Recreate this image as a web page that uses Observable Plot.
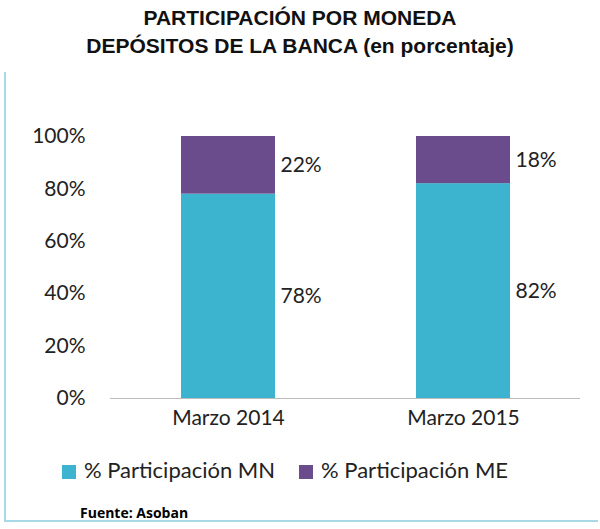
<!DOCTYPE html>
<html><head><meta charset="utf-8">
<script src="https://cdn.jsdelivr.net/npm/d3@7"></script>
<script src="https://cdn.jsdelivr.net/npm/@observablehq/plot@0.6"></script>
<style>
body{margin:0;width:600px;height:529px;background:#fff;position:relative;overflow:hidden;font-family:Lato,sans-serif}
#title{position:absolute;top:4px;left:0;width:600px;text-align:center;font-family:"Liberation Sans",Arial,sans-serif;font-weight:bold;font-size:21px;line-height:28px;color:#111}
#chart{position:absolute;top:70px;left:0}
#legend{position:absolute;top:456px;left:62px;font-size:22px;color:#222;display:flex;gap:24px}
#legend span.sw{display:inline-block;width:14px;height:14px;margin-right:8px;vertical-align:middle}
#src{position:absolute;top:503px;left:80px;font-family:"Open Sans",sans-serif;font-weight:bold;font-size:14px}
#frame{position:absolute;left:4px;top:72px;width:592px;height:448px;border-left:2px solid #a9d8e6;border-bottom:2px solid #a9d8e6}
</style></head><body>
<div id="frame"></div>
<div id="title">PARTICIPACIÓN POR MONEDA<br>DEPÓSITOS DE LA BANCA (en porcentaje)</div>
<div id="chart"></div>
<div id="legend"><div><span class="sw" style="background:#3cb4cf"></span>% Participación MN</div><div><span class="sw" style="background:#6a4c8c"></span>% Participación ME</div></div>
<div id="src">Fuente: Asoban</div>
<script>
const periods = ["Marzo 2014","Marzo 2015"];
const series = ["% Participación MN","% Participación ME"];
const mn = [78,82];
const me = [22,18];
const colors = ["#3cb4cf","#6a4c8c"];
const data = [];
periods.forEach((p,i)=>{data.push({p,s:series[0],v:mn[i]});data.push({p,s:series[1],v:me[i]});});
const chart = Plot.plot({
  width:600,height:380,marginTop:66,marginBottom:52,marginLeft:110,marginRight:20,
  style:{fontFamily:"Lato, sans-serif",fontSize:"21px",color:"#222"},
  x:{domain:periods,paddingInner:0.6,paddingOuter:0.3,label:null,tickSize:0,tickPadding:12},
  y:{domain:[0,100],ticks:[0,20,40,60,80,100],tickFormat:d=>d+"%",label:null,tickSize:0,tickPadding:25},
  color:{domain:series,range:colors},
  marks:[
    Plot.barY(data,{x:"p",y:"v",fill:"s",order:series}),
    Plot.ruleY([0],{stroke:"#bbb"}),
    Plot.text(data,Plot.stackY({x:"p",y:"v",z:"s",order:series,text:d=>d.v+"%",dx:52,textAnchor:"start",fontSize:21,fill:"#222"}))
  ]
});
document.getElementById("chart").append(chart);
</script></body></html>
